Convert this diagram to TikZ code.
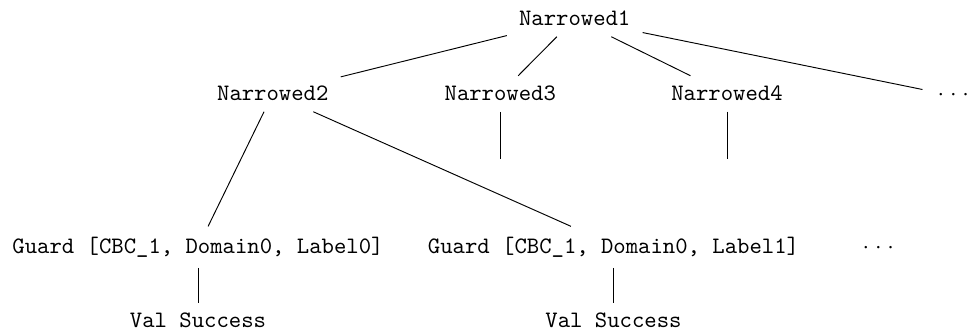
\documentclass[tikz,border=0pt]{standalone}
% three centred dots set on the typewriter grid
\newcommand\ttcdots{\makebox[5.25pt]{$\cdot$}\makebox[5.25pt]{$\cdot$}\makebox[5.25pt]{$\cdot$}}
\begin{document}
\begin{tikzpicture}[x=0.4244pt,y=-0.4244pt,
  lbl/.style={font=\ttfamily, inner xsep=5pt, inner ysep=4.3pt, anchor=base},
  branch/.style={draw, line width=0.4pt}]
\useasboundingbox (0,0) rectangle (971,333);

% first and second levels
\node[lbl] (n1) at (574.7,26) {Narrowed1};
\node[lbl] (n2) at (272.8,101) {Narrowed2};
\node[lbl] (n3) at (500.3,101) {Narrowed3};
\node[lbl] (n4) at (727,101) {Narrowed4};
\node[lbl] (d1) at (953.3,101) {\ttcdots};
\coordinate (e3) at (500.3,159);
\coordinate (e4) at (727,159);

% guards and their results
\node[lbl] (g1) at (198,253.3) {Guard [CBC\_1, Domain0, Label0]};
\node[lbl] (g2) at (613.5,253.3) {Guard [CBC\_1, Domain0, Label1]};
\node[lbl] (d2) at (878.3,253.3) {\ttcdots};
\node[lbl] (v1) at (198,328) {Val Success};
\node[lbl] (v2) at (613.5,328) {Val Success};

% branches
\path[branch] (n1) -- (n2);
\path[branch] (n1) -- (n3);
\path[branch] (n1) -- (n4);
\path[branch] (n1) -- (d1);
\path[branch] (n3) -- (e3);
\path[branch] (n4) -- (e4);
\path[branch] (n2) -- (g1);
\path[branch] (n2) -- (g2.154);
\path[branch] (g1) -- (v1);
\path[branch] (g2) -- (v2);
\end{tikzpicture}
\end{document}
